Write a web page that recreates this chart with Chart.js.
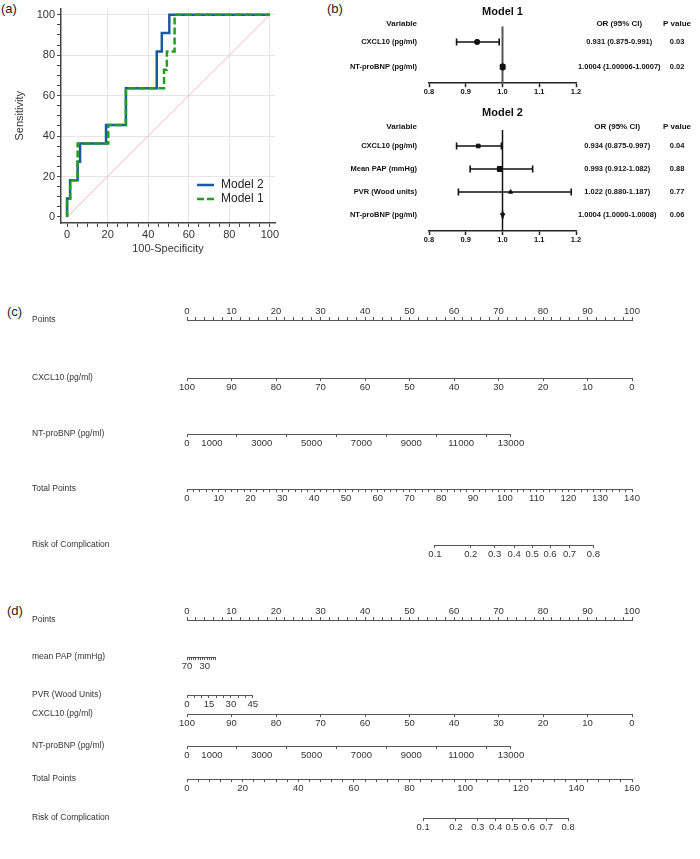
<!DOCTYPE html>
<html>
<head>
<meta charset="utf-8">
<script src="https://cdn.jsdelivr.net/npm/chart.js@4.4.1/dist/chart.umd.min.js"></script>
<style>
  body { margin: 0; background: #fff; width: 700px; height: 859px; position: relative; overflow: hidden; font-family: "Liberation Sans", Arial, sans-serif; }
  canvas { position: absolute; }
  .tag { position: absolute; font-size: 13px; color: #222; }
</style>
</head>
<body>
<div class="tag" style="left:1px;top:1px">(a)</div>
<div class="tag" style="left:327px;top:1px">(b)</div>
<div class="tag" style="left:7px;top:304px">(c)</div>
<div class="tag" style="left:7px;top:603px">(d)</div>
<canvas id="roc" width="290" height="260" style="left:0;top:0"></canvas>
<canvas id="m1" width="360" height="100" style="left:340px;top:0"></canvas>
<canvas id="m2" width="360" height="150" style="left:340px;top:100px"></canvas>
<script>
// (a) ROC curves, operating points (100-specificity, sensitivity)
const rocModel2Fpr = [0, 0, 1.5, 5.2, 6.4, 19.2, 29, 44.2, 46.7, 50.4, 100];
const rocModel2Sens = [0, 9.09, 18.18, 27.27, 36.36, 45.45, 63.64, 81.82, 90.91, 100, 100];
const rocModel1Fpr = [0, 0, 1.5, 5.2, 20.3, 29, 47.8, 49.2, 53.0, 100];
const rocModel1Sens = [0, 9.09, 18.18, 36.36, 45.45, 63.64, 72.73, 81.82, 100, 100];
const rocRefLine = [0, 100];
const rocTicks = [0, 5, 10, 15, 20, 25, 30, 35, 40, 45, 50, 55, 60, 65, 70, 75, 80, 85, 90, 95, 100];

// (b) forest plots
const m1Vars = ['CXCL10 (pg/ml)', 'NT-proBNP (pg/ml)'];
const m1Or = [0.931, 1.0004];
const m1Lo = [0.875, 1.00006];
const m1Hi = [0.991, 1.0007];
const m1Ci = ['0.931 (0.875-0.991)', '1.0004 (1.00006-1.0007)'];
const m1P = ['0.03', '0.02'];
const m2Vars = ['CXCL10 (pg/ml)', 'Mean PAP (mmHg)', 'PVR (Wood units)', 'NT-proBNP (pg/ml)'];
const m2Or = [0.934, 0.993, 1.022, 1.0004];
const m2Lo = [0.875, 0.912, 0.880, 1.0000];
const m2Hi = [0.997, 1.082, 1.187, 1.0008];
const m2Ci = ['0.934 (0.875-0.997)', '0.993 (0.912-1.082)', '1.022 (0.880-1.187)', '1.0004 (1.0000-1.0008)'];
const m2P = ['0.04', '0.88', '0.77', '0.06'];
const orTicks = [0.8, 0.9, 1.0, 1.1, 1.2];

// (c), (d) nomograms
const pointsLabels = [0, 10, 20, 30, 40, 50, 60, 70, 80, 90, 100];
const cxclLabels = [100, 90, 80, 70, 60, 50, 40, 30, 20, 10, 0];
const ntTicks = [0, 2000, 4000, 6000, 8000, 10000, 12000, 13000];
const ntLabels = [0, 1000, 3000, 5000, 7000, 9000, 11000, 13000];
const papTicks = [70, 65, 60, 55, 50, 45, 40, 35, 30, 25, 20, 15, 10, 5];
const papLabels = [70, 30];
const pvrTicks = [0, 5, 10, 15, 20, 25, 30, 35, 40, 45];
const pvrLabels = [0, 15, 30, 45];
const cTotalLabels = [0, 10, 20, 30, 40, 50, 60, 70, 80, 90, 100, 110, 120, 130, 140];
const dTotalLabels = [0, 20, 40, 60, 80, 100, 120, 140, 160];
const riskLabels = [0.1, 0.2, 0.3, 0.4, 0.5, 0.6, 0.7, 0.8];
// points reached at the end of each predictor scale
const ntMaxPoints = 72.8;
const papMaxPoints = 6.5;
const pvrMaxPoints = 14.8;
// logit(risk) = intercept + slope * total points
const cRiskModel = [-7.806, 0.0719];
const dRiskModel = [-8.029, 0.0687];

Chart.defaults.font.family = '"Liberation Sans", Arial, sans-serif';
Chart.defaults.color = '#222';
Chart.defaults.animation = false;
Chart.defaults.responsive = false;
Chart.defaults.events = [];
Chart.defaults.plugins.legend.display = false;
Chart.defaults.plugins.tooltip.enabled = false;

function pts(xs, ys) { return xs.map((x, i) => ({ x: x, y: ys[i] })); }

// ---------- ROC ----------
const rocLegend = {
  id: 'rocLegend',
  afterDatasetsDraw(chart) {
    const { ctx, chartArea } = chart;
    const items = [chart.data.datasets[1], chart.data.datasets[0]];
    ctx.save();
    items.forEach((ds, k) => {
      const x = chartArea.right - 78, y = chartArea.bottom - 38 + k * 14;
      ctx.strokeStyle = ds.borderColor;
      ctx.lineWidth = ds.borderWidth;
      ctx.setLineDash(ds.borderDash || []);
      ctx.beginPath(); ctx.moveTo(x, y); ctx.lineTo(x + 17, y); ctx.stroke();
      ctx.setLineDash([]);
      ctx.fillStyle = '#222';
      ctx.font = '12px "Liberation Sans", Arial';
      ctx.textBaseline = 'middle';
      ctx.fillText(ds.label, x + 24, y);
    });
    ctx.restore();
  }
};

function rocAxis(min, max, title, fit) {
  return {
    type: 'linear', min: min, max: max,
    afterBuildTicks: s => { s.ticks = rocTicks.map(v => ({ value: v })); },
    afterFit: fit,
    ticks: { autoSkip: false, maxRotation: 0, padding: 2, color: '#333', font: { size: 11 },
      callback: v => (v % 20 === 0 ? v : '') },
    grid: {
      color: c => (c.tick && c.tick.value % 20 === 0 && c.tick.value > 0) ? '#e6e6e6' : 'rgba(0,0,0,0)',
      tickColor: '#444', tickLength: 4, lineWidth: 1
    },
    border: { color: '#444', width: 1.5 },
    title: { display: true, text: title, color: '#333', font: { size: 11 } }
  };
}

const rocX = rocAxis(-3, 102.5, '100-Specificity', s => { s.height = 37; });
rocX.title.padding = { top: 0, bottom: 4 };
rocX.ticks.padding = 1;
const rocY = rocAxis(-3, 103, 'Sensitivity', s => { s.width = 61; });
rocY.title.padding = { top: 13, bottom: 0 };

new Chart(document.getElementById('roc'), {
  type: 'line',
  data: {
    datasets: [
      { label: 'Model 1', data: pts(rocModel1Fpr, rocModel1Sens), stepped: true, borderColor: '#1f9e1f',
        borderWidth: 2.5, borderDash: [7, 3], pointRadius: 0, order: 1 },
      { label: 'Model 2', data: pts(rocModel2Fpr, rocModel2Sens), stepped: true, borderColor: '#1c57a5',
        borderWidth: 2.5, pointRadius: 0, order: 2 },
      { label: 'Reference', data: pts(rocRefLine, rocRefLine), borderColor: '#eaa8a8',
        borderWidth: 0.8, pointRadius: 0, order: 3 }
    ]
  },
  options: {
    layout: { padding: { left: 0, top: 7, right: 15, bottom: 0 } },
    scales: { x: rocX, y: rocY }
  },
  plugins: [rocLegend]
});

// ---------- forest plots ----------
function forest(id, cfg) {
  const rows = cfg.vars.map((v, i) => i);
  const tickVals = [cfg.headerY].concat(rows);
  const ds = [];
  ds.push({ type: 'line', data: [{ x: 1, y: cfg.lineTop }, { x: 1, y: cfg.yMax }], borderColor: cfg.refColor,
    borderWidth: cfg.refWidth, pointRadius: 0, order: 10 });
  rows.forEach(i => ds.push({
    type: 'line', data: [{ x: cfg.lo[i], y: i }, { x: cfg.hi[i], y: i }], borderColor: '#111', borderWidth: 1.6,
    pointStyle: 'line', pointRotation: 90, pointRadius: 3.5, pointBorderWidth: 1.6, pointBorderColor: '#111', order: 2
  }));
  ds.push({ type: 'scatter', data: pts(cfg.or, rows), pointStyle: cfg.styles, pointRadius: cfg.sizes,
    pointRotation: cfg.rot, backgroundColor: '#111', borderColor: '#111', borderWidth: 1, order: 1 });

  const headFont = { size: 8, weight: 'bold' }, rowFont = { size: 7.5, weight: 'bold' };
  const yBase = (texts, width, pos, pad, align) => ({
    type: 'linear', position: pos, reverse: true, min: cfg.yMin, max: cfg.yMax,
    afterBuildTicks: s => { s.ticks = tickVals.map(v => ({ value: v })); },
    afterFit: s => { s.width = width; },
    grid: { display: false, drawTicks: false }, border: { display: false },
    ticks: { autoSkip: false, padding: pad, crossAlign: align, color: '#111',
      font: c => (c.index === 0 ? headFont : rowFont), callback: (v, i) => texts[i] }
  });

  new Chart(document.getElementById(id), {
    type: 'scatter',
    data: { datasets: ds },
    options: {
      layout: { padding: 0 },
      plugins: {
        title: { display: true, text: cfg.title, fullSize: false, color: '#111',
          font: { size: 11, weight: 'bold', lineHeight: 1 }, padding: { top: cfg.titlePad, bottom: 0 } }
      },
      scales: {
        x: {
          type: 'linear', min: 0.8, max: 1.2,
          afterBuildTicks: s => { s.ticks = orTicks.map(v => ({ value: v })); },
          afterFit: s => { s.height = cfg.xHeight; },
          ticks: { autoSkip: false, padding: 0, color: '#111', font: rowFont, callback: v => v.toFixed(1) },
          grid: { drawOnChartArea: false, tickLength: 4, tickWidth: 1.5, tickColor: '#222' },
          border: { color: '#222', width: 1.5 }
        },
        y: yBase(['Variable'].concat(cfg.vars), 89, 'left', 12, 'near'),
        yOr: yBase(['OR (95% CI)'].concat(cfg.ci), 84, 'right', 2, 'center'),
        yP: yBase(['P value'].concat(cfg.p), 40, 'right', 3, 'center')
      }
    }
  });
}

forest('m1', {
  title: 'Model 1', vars: m1Vars, or: m1Or, lo: m1Lo, hi: m1Hi, ci: m1Ci, p: m1P,
  styles: ['circle', 'rect'], sizes: [2.6, 3.5], rot: [0, 0],
  yMin: -1.0, yMax: 1.654, headerY: -0.73, lineTop: -0.615, titlePad: 6, xHeight: 14,
  refColor: '#555', refWidth: 2
});
forest('m2', {
  title: 'Model 2', vars: m2Vars, or: m2Or, lo: m2Lo, hi: m2Hi, ci: m2Ci, p: m2P,
  styles: ['rect', 'rect', 'triangle', 'triangle'], sizes: [2.6, 3.6, 2.4, 2.6], rot: [0, 0, 0, 180],
  yMin: -1.196, yMax: 3.696, headerY: -0.826, lineTop: -0.696, titlePad: 7.5, xHeight: 19,
  refColor: '#111', refWidth: 1.5
});

// ---------- nomograms ----------
const nomoLeft = 187, nomoRight = 632;  // pixel span of the 0-100 Points axis
const nomoNum = '"Liberation Sans Narrow", "Liberation Sans", Arial';
function pointsPx(p) { return nomoLeft + p * (nomoRight - nomoLeft) / 100; }
function range(a, b, step) { const r = []; for (let v = a; v <= b + 1e-9; v += step) r.push(v); return r; }
function logit(p) { return Math.log(p / (1 - p)); }

function axisTicks(tickVals, labelVals) {
  const all = Array.from(new Set(tickVals.concat(labelVals))).sort((a, b) => a - b);
  return { ticks: all, text: all.map(v => (labelVals.includes(v) ? String(v) : '')),
    marked: all.map(v => tickVals.includes(v)) };
}

function riskRow(name, lineY, model, totalMax) {
  const tp = p => (logit(p) - model[0]) / model[1];
  const px = t => nomoLeft + t * (nomoRight - nomoLeft) / totalMax;
  return { name: name, lineY: lineY, min: logit(riskLabels[0]), max: logit(riskLabels[riskLabels.length - 1]),
    ticks: riskLabels.map(logit), text: riskLabels.map(String), marked: riskLabels.map(() => true),
    span: [px(tp(riskLabels[0])), px(tp(riskLabels[riskLabels.length - 1]))] };
}

function nomoRow(row) {
  const cv = document.createElement('canvas');
  cv.width = 700; cv.height = 30;
  cv.style.left = '0px';
  cv.style.top = (row.lineY - (row.top ? 26 : 4)) + 'px';
  document.body.appendChild(cv);
  new Chart(cv, {
    type: 'scatter',
    data: { datasets: [] },
    options: {
      layout: { padding: { left: 32, right: 700 - row.span[1], top: row.top ? 0 : 2, bottom: row.top ? 2 : 0 } },
      scales: {
        x: {
          type: 'linear', position: row.top ? 'top' : 'bottom', min: row.min, max: row.max, reverse: !!row.reverse,
          afterBuildTicks: s => { s.ticks = row.ticks.map(v => ({ value: v })); },
          afterFit: s => { s.height = 26; },
          ticks: { autoSkip: false, maxRotation: 0, minRotation: 0, padding: row.top ? 0 : 1, color: '#333',
            font: { size: 9.5, family: nomoNum }, callback: (v, i) => row.text[i] },
          grid: { drawOnChartArea: false, tickLength: 3, tickWidth: 1,
            tickColor: c => (row.marked[c.index] ? '#555' : 'rgba(0,0,0,0)') },
          border: { color: '#555', width: 1 }
        },
        y: {
          type: 'category', labels: [row.name], offset: true, position: 'left',
          afterFit: s => { s.width = row.span[0] - 32; },
          grid: { display: false, drawTicks: false }, border: { display: false },
          ticks: { crossAlign: 'far', padding: 0, color: '#333', font: { size: 8.5 } }
        }
      }
    }
  });
}

function fullRow(name, lineY, min, max, tickVals, labelVals, extra) {
  return Object.assign({ name: name, lineY: lineY, min: min, max: max,
    span: [pointsPx(0), pointsPx(100)] }, axisTicks(tickVals, labelVals), extra || {});
}

const pointsTicks = range(0, 100, 2);
const panelC = [
  fullRow('Points', 320, 0, 100, pointsTicks, pointsLabels, { top: true }),
  fullRow('CXCL10 (pg/ml)', 377, 0, 100, cxclLabels, cxclLabels, { reverse: true }),
  fullRow('NT-proBNP (pg/ml)', 433, 0, 13000, ntTicks, ntLabels, { span: [pointsPx(0), pointsPx(ntMaxPoints)] }),
  fullRow('Total Points', 488, 0, 140, range(0, 140, 2), cTotalLabels),
  riskRow('Risk of Complication', 544, cRiskModel, 140)
];
const panelD = [
  fullRow('Points', 620, 0, 100, pointsTicks, pointsLabels, { top: true }),
  fullRow('mean PAP (mmHg)', 656, 5, 70, papTicks, papLabels, { reverse: true, span: [pointsPx(0), pointsPx(papMaxPoints)] }),
  fullRow('PVR (Wood Units)', 694, 0, 45, pvrTicks, pvrLabels, { span: [pointsPx(0), pointsPx(pvrMaxPoints)] }),
  fullRow('CXCL10 (pg/ml)', 713, 0, 100, cxclLabels, cxclLabels, { reverse: true }),
  fullRow('NT-proBNP (pg/ml)', 745, 0, 13000, ntTicks, ntLabels, { span: [pointsPx(0), pointsPx(ntMaxPoints)] }),
  fullRow('Total Points', 778, 0, 160, range(0, 160, 4), dTotalLabels),
  riskRow('Risk of Complication', 817, dRiskModel, 160)
];
panelC.concat(panelD).forEach(nomoRow);
</script>
</body>
</html>
